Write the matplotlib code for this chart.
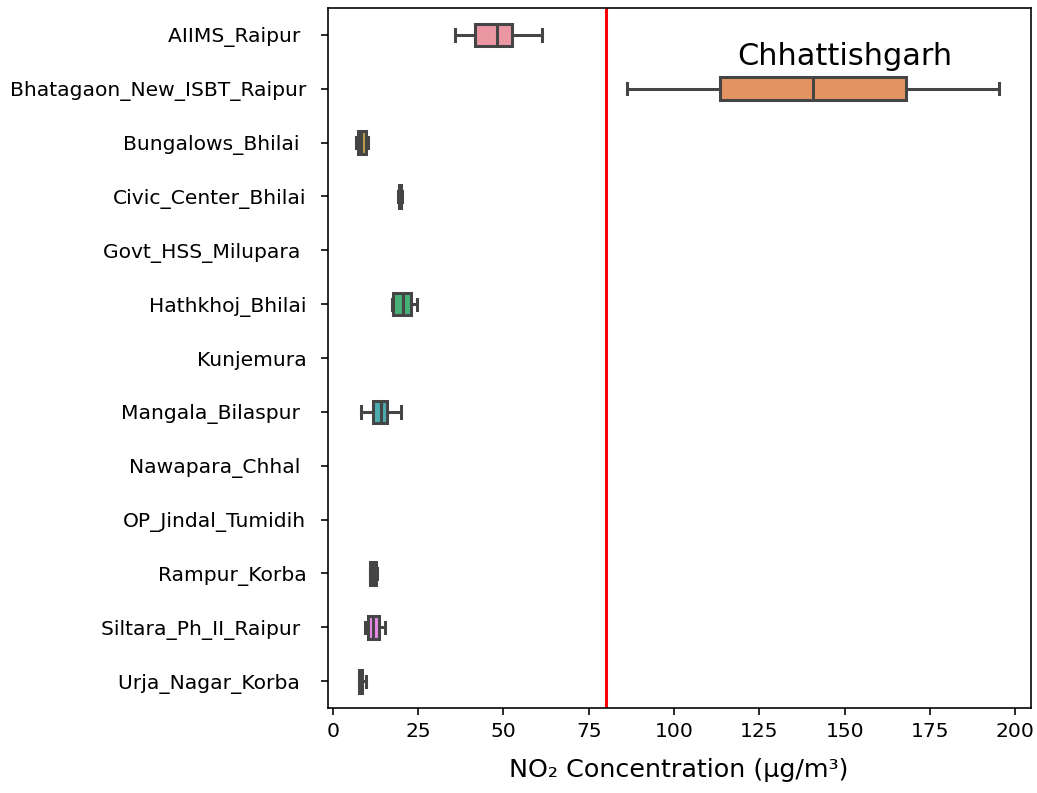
import colorsys
import numpy as np
import matplotlib
matplotlib.use("Agg")
import matplotlib.pyplot as plt
import seaborn as sns

# Stations (some names carry a trailing space in the source data)
stations = ["AIIMS_Raipur ", "Bhatagaon_New_ISBT_Raipur", "Bungalows_Bhilai ",
            "Civic_Center_Bhilai", "Govt_HSS_Milupara ", "Hathkhoj_Bhilai",
            "Kunjemura", "Mangala_Bilaspur ", "Nawapara_Chhal ",
            "OP_Jindal_Tumidih", "Rampur_Korba", "Siltara_Ph_II_Raipur ",
            "Urja_Nagar_Korba "]

# NO2 readings per station (ug/m3), empty where no data
no2 = {
    "AIIMS_Raipur ": [35.7, 41.8, 48.0, 52.5, 61.4],
    "Bhatagaon_New_ISBT_Raipur": [86.3, 113.5, 140.6, 168.0, 195.2],
    "Bungalows_Bhilai ": [6.8, 7.4, 8.4, 9.6, 10.2],
    "Civic_Center_Bhilai": [19.2, 19.5, 19.8, 20.1, 20.4],
    "Govt_HSS_Milupara ": [],
    "Hathkhoj_Bhilai": [17.4, 17.6, 20.5, 23.0, 24.6],
    "Kunjemura": [],
    "Mangala_Bilaspur ": [8.2, 11.9, 14.0, 16.0, 20.0],
    "Nawapara_Chhal ": [],
    "OP_Jindal_Tumidih": [],
    "Rampur_Korba": [10.8, 11.0, 11.9, 12.8, 13.0],
    "Siltara_Ph_II_Raipur ": [9.3, 10.2, 11.8, 13.4, 15.2],
    "Urja_Nagar_Korba ": [7.6, 7.7, 8.2, 8.6, 9.6],
}

limit = 80

# seaborn's old default: husl palette, desaturated
colors = [sns.desaturate(c, 0.75) for c in sns.husl_palette(len(stations), l=.7)]
lum = min(colorsys.rgb_to_hls(*c)[1] for c in colors) * .6
gray = (lum, lum, lum)

fig, ax = plt.subplots(figsize=(1037 / 146, 793 / 146), dpi=146)
fig.subplots_adjust(left=0.316, right=0.994, top=0.99, bottom=0.107)

data, pos, cols = [], [], []
for i, s in enumerate(stations):
    if len(no2[s]) > 0:
        data.append(no2[s])
        pos.append(i)
        cols.append(colors[i])

bp = ax.boxplot(data, positions=pos, orientation="horizontal", widths=0.42,
                patch_artist=True, showfliers=False,
                boxprops=dict(edgecolor=gray, linewidth=1.5),
                whiskerprops=dict(color=gray, linewidth=1.5),
                capprops=dict(color=gray, linewidth=1.5),
                medianprops=dict(color=gray, linewidth=1.5))
for patch, c in zip(bp["boxes"], cols):
    patch.set_facecolor(c)

ax.axvline(limit, color="red", linewidth=1.5)

ax.set_yticks(range(len(stations)))
ax.set_yticklabels(stations)
ax.tick_params(axis="y", pad=7)
ax.set_ylim(len(stations) - 0.5, -0.5)
ax.set_xlim(-1.5, 204.5)
ax.set_xticks(np.arange(0, 201, 25))
ax.set_xlabel("NO₂ Concentration (µg/m³)", fontsize=12.5, labelpad=8)
ax.text(150, 0.4, "Chhattishgarh", fontsize=15, ha="center", va="center")

fig.savefig("out.png", dpi=146)
